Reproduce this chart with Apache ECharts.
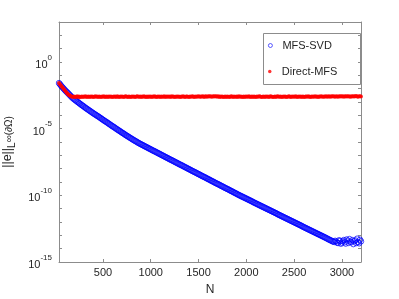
<!DOCTYPE html>
<html>
<head>
<meta charset="utf-8">
<script src="https://cdn.jsdelivr.net/npm/echarts@6/dist/echarts.min.js"></script>
<style>
html,body{margin:0;padding:0;background:#fff;}
#chart{width:399px;height:299px;}
</style>
</head>
<body>
<div id="chart"></div>
<script>
// Number of collocation points N
const nValues = [
  40,50,60,70,80,90,100,110,120,130,140,150,160,170,180,190,200,210,220,230,
  240,250,260,270,280,290,300,310,320,330,340,350,360,370,380,390,400,410,420,430,
  440,450,460,470,480,490,500,510,520,530,540,550,560,570,580,590,600,610,620,630,
  640,650,660,670,680,690,700,710,720,730,740,750,760,770,780,790,800,810,820,830,
  840,850,860,870,880,890,900,910,920,930,940,950,960,970,980,990,1000,1010,1020,1030,
  1040,1050,1060,1070,1080,1090,1100,1110,1120,1130,1140,1150,1160,1170,1180,1190,1200,1210,1220,1230,
  1240,1250,1260,1270,1280,1290,1300,1310,1320,1330,1340,1350,1360,1370,1380,1390,1400,1410,1420,1430,
  1440,1450,1460,1470,1480,1490,1500,1510,1520,1530,1540,1550,1560,1570,1580,1590,1600,1610,1620,1630,
  1640,1650,1660,1670,1680,1690,1700,1710,1720,1730,1740,1750,1760,1770,1780,1790,1800,1810,1820,1830,
  1840,1850,1860,1870,1880,1890,1900,1910,1920,1930,1940,1950,1960,1970,1980,1990,2000,2010,2020,2030,
  2040,2050,2060,2070,2080,2090,2100,2110,2120,2130,2140,2150,2160,2170,2180,2190,2200,2210,2220,2230,
  2240,2250,2260,2270,2280,2290,2300,2310,2320,2330,2340,2350,2360,2370,2380,2390,2400,2410,2420,2430,
  2440,2450,2460,2470,2480,2490,2500,2510,2520,2530,2540,2550,2560,2570,2580,2590,2600,2610,2620,2630,
  2640,2650,2660,2670,2680,2690,2700,2710,2720,2730,2740,2750,2760,2770,2780,2790,2800,2810,2820,2830,
  2840,2850,2860,2870,2880,2890,2900,2910,2920,2930,2940,2950,2960,2970,2980,2990,3000,3010,3020,3030,
  3040,3050,3060,3070,3080,3090,3100,3110,3120,3130,3140,3150,3160,3170,3180,3190,3200
];
// log10 of the error, MFS-SVD
const svdLog10Err = [
  -1.58,-1.67,-1.76,-1.85,-1.93,-2.01,-2.09,-2.17,-2.24,-2.31,-2.38,-2.46,-2.53,-2.61,-2.68,-2.74,-2.80,-2.86,-2.91,-2.97,
  -3.02,-3.08,-3.13,-3.19,-3.24,-3.29,-3.34,-3.40,-3.45,-3.50,-3.55,-3.60,-3.65,-3.70,-3.75,-3.80,-3.85,-3.90,-3.94,-3.99,
  -4.04,-4.08,-4.13,-4.18,-4.23,-4.28,-4.33,-4.38,-4.43,-4.47,-4.52,-4.57,-4.62,-4.67,-4.72,-4.77,-4.82,-4.86,-4.91,-4.96,
  -5.01,-5.06,-5.11,-5.15,-5.20,-5.25,-5.30,-5.34,-5.39,-5.44,-5.49,-5.53,-5.58,-5.62,-5.67,-5.71,-5.76,-5.80,-5.85,-5.89,
  -5.93,-5.97,-6.02,-6.06,-6.10,-6.14,-6.18,-6.21,-6.25,-6.29,-6.33,-6.36,-6.40,-6.44,-6.48,-6.51,-6.55,-6.59,-6.63,-6.66,
  -6.70,-6.73,-6.77,-6.81,-6.85,-6.88,-6.92,-6.96,-7.00,-7.03,-7.07,-7.11,-7.15,-7.18,-7.22,-7.26,-7.30,-7.33,-7.37,-7.40,
  -7.44,-7.48,-7.52,-7.55,-7.59,-7.63,-7.67,-7.70,-7.74,-7.77,-7.81,-7.85,-7.89,-7.92,-7.96,-8.00,-8.04,-8.07,-8.11,-8.15,
  -8.19,-8.22,-8.26,-8.29,-8.33,-8.37,-8.41,-8.44,-8.48,-8.52,-8.56,-8.59,-8.63,-8.66,-8.70,-8.74,-8.78,-8.81,-8.85,-8.89,
  -8.93,-8.96,-9.00,-9.04,-9.08,-9.11,-9.15,-9.18,-9.22,-9.26,-9.30,-9.33,-9.37,-9.41,-9.45,-9.48,-9.52,-9.55,-9.59,-9.63,
  -9.67,-9.70,-9.74,-9.78,-9.82,-9.85,-9.89,-9.93,-9.97,-10.00,-10.04,-10.07,-10.11,-10.14,-10.18,-10.21,-10.25,-10.28,-10.32,-10.35,
  -10.39,-10.42,-10.46,-10.50,-10.54,-10.57,-10.61,-10.64,-10.68,-10.71,-10.75,-10.78,-10.82,-10.85,-10.89,-10.92,-10.96,-10.99,-11.03,-11.06,
  -11.10,-11.13,-11.17,-11.20,-11.24,-11.27,-11.31,-11.34,-11.38,-11.42,-11.46,-11.49,-11.53,-11.56,-11.60,-11.63,-11.67,-11.70,-11.74,-11.77,
  -11.81,-11.84,-11.88,-11.91,-11.95,-11.98,-12.02,-12.05,-12.09,-12.12,-12.16,-12.19,-12.23,-12.26,-12.30,-12.34,-12.38,-12.41,-12.45,-12.48,
  -12.52,-12.55,-12.59,-12.62,-12.66,-12.69,-12.73,-12.76,-12.80,-12.83,-12.87,-12.90,-12.94,-12.97,-13.01,-13.04,-13.08,-13.11,-13.15,-13.18,
  -13.22,-13.26,-13.30,-13.33,-13.37,-13.40,-13.44,-13.47,-13.50,-13.41,-13.46,-13.55,-13.58,-13.37,-13.42,-13.63,-13.55,-13.44,-13.35,-13.52,
  -13.62,-13.31,-13.40,-13.57,-13.28,-13.48,-13.52,-13.36,-13.66,-13.44,-13.38,-13.58,-13.25,-13.50,-13.60,-13.33,-13.45
];
// log10 of the error, Direct-MFS
const directLog10Err = [
  -1.58,-1.67,-1.76,-1.85,-1.94,-2.03,-2.12,-2.21,-2.30,-2.38,-2.45,-2.50,-2.55,-2.58,-2.60,
  -2.61,-2.58,-2.63,-2.60,-2.57,-2.62,-2.59,-2.64,-2.60,-2.58,
  -2.62,-2.59,-2.61,-2.57,-2.63,-2.60,-2.58,-2.62,-2.59,-2.61,
  -2.58,-2.63,-2.60,-2.57,-2.61,-2.59,-2.62,-2.58,-2.60,-2.63,
  -2.59,-2.61,-2.57,-2.62,-2.60,-2.58,-2.63,-2.59,-2.61,-2.58,
  -2.60,-2.62,-2.58,-2.61,-2.59,-2.63,-2.57,-2.60,-2.62,-2.59,
  -2.61,-2.58,-2.60,-2.62,-2.59,-2.57,-2.61,-2.63,-2.58,-2.60,
  -2.62,-2.59,-2.61,-2.58,-2.60,-2.63,-2.59,-2.57,-2.61,-2.60,
  -2.58,-2.62,-2.59,-2.61,-2.57,-2.60,-2.62,-2.58,-2.63,-2.59,
  -2.60,-2.58,-2.62,-2.59,-2.61,-2.57,-2.60,-2.63,-2.58,-2.61,
  -2.59,-2.62,-2.58,-2.60,-2.61,-2.57,-2.63,-2.59,-2.60,-2.58,
  -2.61,-2.59,-2.62,-2.57,-2.60,-2.58,-2.62,-2.60,-2.59,-2.61,
  -2.58,-2.60,-2.63,-2.59,-2.61,-2.57,-2.60,-2.62,-2.58,-2.59,
  -2.60,-2.62,-2.58,-2.61,-2.59,-2.57,-2.62,-2.60,-2.58,-2.61,
  -2.59,-2.57,-2.61,-2.58,-2.60,-2.56,-2.59,-2.62,-2.57,-2.58,
  -2.60,-2.57,-2.59,-2.56,-2.58,-2.60,-2.57,-2.59,-2.56,-2.58,
  -2.57,
  -2.60,-2.57,-2.62,-2.59,-2.61,-2.58,-2.63,-2.60,-2.59,-2.62,
  -2.58,-2.61,-2.60,-2.63,-2.57,-2.59,-2.62,-2.58,-2.60,-2.61,
  -2.59,-2.62,-2.57,-2.60,-2.58,-2.61,-2.63,-2.59,-2.62,-2.58,
  -2.60,-2.59,-2.61,-2.57,-2.62,-2.60,-2.58,-2.63,-2.59,-2.61,
  -2.62,-2.58,-2.60,-2.59,-2.57,-2.61,-2.63,-2.60,-2.58,-2.62,
  -2.59,-2.61,-2.58,-2.60,-2.62,-2.57,-2.59,-2.61,-2.63,-2.60,
  -2.58,-2.62,-2.59,-2.57,-2.61,-2.60,-2.58,-2.62,-2.60,-2.59,
  -2.61,-2.58,-2.63,-2.60,-2.59,-2.57,-2.62,-2.61,-2.58,-2.60,
  -2.59,-2.61,-2.57,-2.62,-2.60,-2.58,-2.61,-2.59,-2.63,-2.58,
  -2.60,-2.62,-2.59,-2.58,-2.61,-2.57,-2.60,-2.62,-2.59,-2.61,
  -2.58,-2.60,-2.57,-2.61,-2.59,-2.62,-2.58,-2.60,-2.57,-2.59,
  -2.61,-2.58,-2.60,-2.56,-2.59,-2.61,-2.57,-2.58,-2.60,-2.57,
  -2.59,-2.56,-2.58,-2.60,-2.57,-2.59,-2.61,-2.56,-2.58,-2.57,
  -2.59,-2.57,-2.60,-2.56,-2.58,-2.57,-2.59,-2.56,-2.58,-2.60,
  -2.57,-2.59,-2.56,-2.58,-2.57,-2.55,-2.58,-2.60,-2.56,-2.57,
  -2.58
];
const seriesNames = ['MFS-SVD', 'Direct-MFS'];
const xTickLabels = [500, 1000, 1500, 2000, 2500, 3000];
const yLabelExponents = [-15, -10, -5, 0];

const FONT = '"Liberation Sans", Arial, Helvetica, sans-serif';
const AX = '#8c8c8c';
const TXT = '#262626';

const svdData = nValues.map((n, i) => [n, Math.pow(10, svdLog10Err[i])]);
const directData = nValues.map((n, i) => [n, Math.pow(10, directLog10Err[i])]);

const chart = echarts.init(document.getElementById('chart'), null, {renderer: 'canvas'});

const xCommon = {
  type: 'value', min: 40, max: 3200, splitNumber: 6,
  axisLine: {show: true, onZero: false, lineStyle: {color: AX, width: 1}},
  axisTick: {show: true, inside: true, length: 3, lineStyle: {color: AX}},
  splitLine: {show: false}
};
const yCommon = {
  type: 'log', logBase: 10, min: 1e-15, max: 1e3, interval: 1,
  axisLine: {show: true, lineStyle: {color: AX, width: 1}},
  axisTick: {show: true, inside: true, length: 3, lineStyle: {color: AX}},
  splitLine: {show: false}, minorTick: {show: false}
};

chart.setOption({
  animation: false,
  backgroundColor: '#ffffff',
  textStyle: {fontFamily: FONT},
  grid: {left: 59, right: 38, top: 22, bottom: 37, containLabel: false, outerBoundsMode: 'none'},
  xAxis: [
    Object.assign({}, xCommon, {
      position: 'bottom',
      name: 'N', nameLocation: 'middle', nameGap: 22,
      nameTextStyle: {fontFamily: FONT, fontSize: 12, color: TXT},
      axisLabel: {
        show: true, margin: 5, fontFamily: FONT, fontSize: 11, color: TXT,
        formatter: v => xTickLabels.indexOf(v) >= 0 ? String(v) : ''
      }
    }),
    Object.assign({}, xCommon, {position: 'top', axisLabel: {show: false}})
  ],
  yAxis: [
    Object.assign({}, yCommon, {
      position: 'left',
      name: '{n|||e||}{l|L}{p|∞(∂Ω)}', nameLocation: 'middle', nameGap: 42, nameRotate: 90,
      nameTextStyle: {
        fontFamily: FONT, color: TXT,
        rich: {
          n: {fontFamily: FONT, fontSize: 12.5, color: TXT, lineHeight: 16, verticalAlign: 'top'},
          l: {fontFamily: FONT, fontSize: 10, color: TXT, lineHeight: 10, verticalAlign: 'bottom'},
          p: {fontFamily: FONT, fontSize: 10, color: TXT, lineHeight: 16, verticalAlign: 'middle'}
        }
      },
      axisLabel: {
        show: true, margin: 7, color: TXT,
        formatter: v => {
          const e = Math.round(Math.log10(v));
          if (yLabelExponents.indexOf(e) < 0) return '';
          return '{b|10}{s|' + e + '}';
        },
        rich: {
          b: {fontFamily: FONT, fontSize: 11, color: TXT, lineHeight: 17, verticalAlign: 'bottom'},
          s: {fontFamily: FONT, fontSize: 8, color: TXT, lineHeight: 9, verticalAlign: 'top'}
        }
      }
    }),
    Object.assign({}, yCommon, {position: 'right', axisLabel: {show: false}})
  ],
  legend: [
    {
      data: [seriesNames[0]], orient: 'vertical', left: 268, top: 40, padding: 0,
      itemWidth: 14, itemHeight: 4, selectedMode: false,
      itemStyle: {borderWidth: 0.8},
      textStyle: {fontFamily: FONT, fontSize: 11, color: TXT}
    },
    {
      data: [seriesNames[1]], orient: 'vertical', left: 268, top: 66, padding: 0,
      itemWidth: 14, itemHeight: 3.5, selectedMode: false,
      textStyle: {fontFamily: FONT, fontSize: 11, color: TXT}
    }
  ],
  graphic: [{
    type: 'rect', left: 263, top: 33, z: 0,
    shape: {width: 97, height: 51},
    style: {fill: '#ffffff', stroke: AX, lineWidth: 1}
  }],
  series: [
    {
      name: seriesNames[0], type: 'scatter', data: svdData,
      symbol: 'circle', symbolSize: 5.5, silent: true,
      itemStyle: {color: 'rgba(255,255,255,0)', borderColor: '#0000ff', borderWidth: 0.9}
    },
    {
      name: seriesNames[1], type: 'scatter', data: directData,
      symbol: 'circle', symbolSize: 4, silent: true,
      itemStyle: {color: '#ff0000'}
    }
  ]
});
</script>
</body>
</html>
